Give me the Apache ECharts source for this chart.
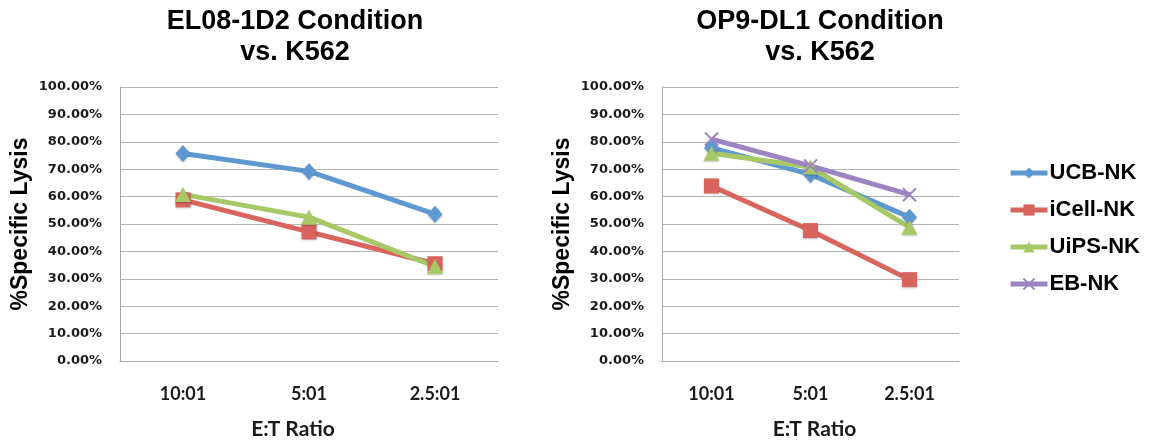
<!DOCTYPE html>
<html>
<head>
<meta charset="utf-8">
<script src="https://cdn.jsdelivr.net/npm/echarts@6/dist/echarts.min.js"></script>
<style>
html,body{margin:0;padding:0;background:#fff;}
#chart{width:1153px;height:445px;}
</style>
</head>
<body>
<div id="chart"></div>
<script>
const categories = ['10:01', '5:01', '2.5:01'];
const seriesNames = ['UCB-NK', 'iCell-NK', 'UiPS-NK', 'EB-NK'];
const leftTitle = 'EL08-1D2 Condition\nvs. K562';
const rightTitle = 'OP9-DL1 Condition\nvs. K562';
const yTicks = [0, 0.1, 0.2, 0.3, 0.4, 0.5, 0.6, 0.7, 0.8, 0.9, 1.0];

// EL08-1D2 condition
const el08UCB = [0.757, 0.692, 0.536];
const el08iCell = [0.588, 0.471, 0.355];
const el08UiPS = [0.608, 0.525, 0.345];

// OP9-DL1 condition
const op9UCB = [0.778, 0.681, 0.525];
const op9iCell = [0.639, 0.476, 0.297];
const op9UiPS = [0.758, 0.708, 0.488];
const op9EB = [0.810, 0.712, 0.607];

const colors = {
  'UCB-NK': '#5E98D1',
  'iCell-NK': '#D9645E',
  'UiPS-NK': '#A6C866',
  'EB-NK': '#9A84C1'
};
const symbols = {
  'UCB-NK': 'diamond',
  'iCell-NK': 'rect',
  'UiPS-NK': 'triangle',
  'EB-NK': 'path://M0,0L10,10M10,0L0,10'
};
const symbolSizes = {
  'UCB-NK': [15, 17],
  'iCell-NK': 15,
  'UiPS-NK': [16, 15],
  'EB-NK': 13
};

function mkSeries(name, data, idx) {
  const isCross = name === 'EB-NK';
  return {
    name: name,
    type: 'line',
    xAxisIndex: idx,
    yAxisIndex: idx,
    data: data,
    symbol: symbols[name],
    symbolSize: symbolSizes[name],
    showAllSymbol: true,
    lineStyle: { width: 5, color: colors[name] },
    itemStyle: isCross
      ? { color: 'none', borderColor: colors[name], borderWidth: 2 }
      : { color: colors[name], borderColor: colors[name], borderWidth: 0, shadowColor: 'rgba(0,0,0,0.25)', shadowBlur: 2, shadowOffsetY: 1 },
    emphasis: { disabled: true },
    animation: false
  };
}

const yLabelFont = { fontFamily: 'DejaVu Sans', fontWeight: 'bold', fontSize: 13, color: '#1a1a1a' };
function mkY(idx) {
  return {
    type: 'value',
    gridIndex: idx,
    min: 0, max: 1, interval: 0.1,
    axisLabel: Object.assign({ margin: 18, formatter: v => (v * 100).toFixed(2) + '%' }, yLabelFont),
    axisLine: { show: true, lineStyle: { color: '#A8A8A8', width: 1 } },
    axisTick: { show: false },
    splitLine: { show: true, lineStyle: { color: '#B4B4B4', width: 1 } },
    name: '%Specific Lysis',
    nameLocation: 'middle',
    nameGap: 88,
    nameTextStyle: { fontFamily: 'Liberation Sans', fontWeight: 'bold', fontSize: 23, color: '#000' }
  };
}
function mkX(idx, namePad) {
  return {
    type: 'category',
    gridIndex: idx,
    data: categories,
    boundaryGap: true,
    axisLabel: { margin: 24, fontFamily: 'Lato', fontWeight: 'bold', fontSize: 18, color: '#1a1a1a', interval: 0 },
    axisLine: { show: true, lineStyle: { color: '#A8A8A8', width: 1 } },
    axisTick: { show: false },
    splitLine: { show: false },
    name: 'E:T Ratio',
    nameLocation: 'middle',
    nameGap: 58,
    nameTextStyle: { fontFamily: 'Lato', fontWeight: 'bold', fontSize: 21, color: '#1a1a1a', padding: namePad }
  };
}

const titleStyle = { fontFamily: 'Liberation Sans', fontWeight: 'bold', fontSize: 27, color: '#000', lineHeight: 31 };

const option = {
  backgroundColor: '#fff',
  animation: false,
  title: [
    { text: leftTitle, left: 295, top: 6, padding: 0, textAlign: 'center', textStyle: titleStyle },
    { text: rightTitle, left: 820, top: 6, padding: 0, textAlign: 'center', textStyle: titleStyle }
  ],
  legend: {
    data: seriesNames,
    orient: 'vertical',
    left: 1008,
    top: 162,
    itemWidth: 37,
    itemHeight: 14,
    itemGap: 15,
    padding: 0,
    lineStyle: { width: 5 },
    textStyle: { fontFamily: 'Liberation Sans', fontWeight: 'bold', fontSize: 22, color: '#000', padding: [0, 0, 0, -3] },
    selectedMode: false
  },
  grid: [
    { left: 120, top: 87, width: 378, height: 276 },
    { left: 662, top: 87, width: 297, height: 276 }
  ],
  xAxis: [mkX(0, [0, 32, 0, 0]), mkX(1, [0, 0, 0, 8])],
  yAxis: [mkY(0), mkY(1)],
  series: [
    mkSeries('UCB-NK', el08UCB, 0),
    mkSeries('iCell-NK', el08iCell, 0),
    mkSeries('UiPS-NK', el08UiPS, 0),
    mkSeries('UCB-NK', op9UCB, 1),
    mkSeries('iCell-NK', op9iCell, 1),
    mkSeries('UiPS-NK', op9UiPS, 1),
    mkSeries('EB-NK', op9EB, 1)
  ]
};

const chart = echarts.init(document.getElementById('chart'), null, { renderer: 'canvas' });
chart.setOption(option);
</script>
</body>
</html>
